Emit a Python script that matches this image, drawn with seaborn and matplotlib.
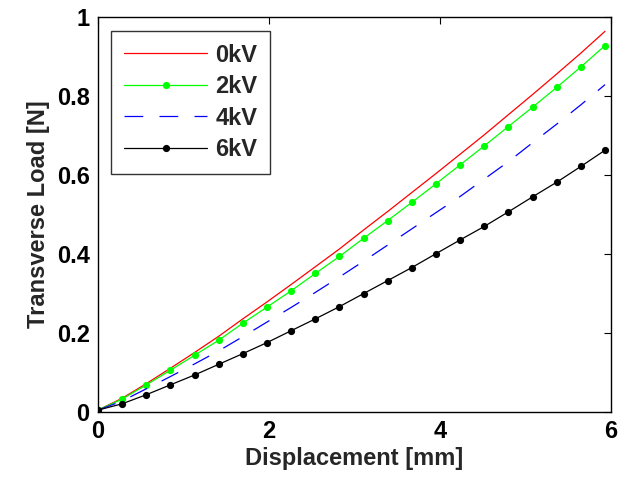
import matplotlib
matplotlib.use("Agg")
import matplotlib.pyplot as plt
import seaborn as sns
import numpy as np
import pandas as pd

displacement = [0.000, 0.282, 0.565, 0.847, 1.130, 1.412, 1.694, 1.977, 2.259, 2.542, 2.824,
                3.106, 3.389, 3.671, 3.953, 4.236, 4.518, 4.800, 5.083, 5.365, 5.648, 5.930]
load_0kV = [0.004, 0.034, 0.071, 0.110, 0.150, 0.191, 0.235, 0.278, 0.322, 0.367, 0.412,
            0.460, 0.507, 0.555, 0.603, 0.652, 0.701, 0.752, 0.803, 0.855, 0.908, 0.963]
load_2kV = [0.004, 0.032, 0.068, 0.105, 0.143, 0.181, 0.224, 0.265, 0.306, 0.350, 0.393,
            0.439, 0.484, 0.530, 0.577, 0.625, 0.673, 0.722, 0.771, 0.821, 0.873, 0.927]
load_4kV = [0.004, 0.027, 0.058, 0.089, 0.121, 0.154, 0.190, 0.227, 0.264, 0.302, 0.341,
            0.381, 0.422, 0.463, 0.504, 0.545, 0.589, 0.633, 0.681, 0.728, 0.777, 0.828]
load_6kV = [0.004, 0.020, 0.043, 0.068, 0.093, 0.120, 0.147, 0.175, 0.205, 0.235, 0.266,
            0.299, 0.332, 0.365, 0.400, 0.435, 0.469, 0.506, 0.544, 0.581, 0.621, 0.662]
series_labels = ["0kV", "2kV", "4kV", "6kV"]
x_ticks = [0, 2, 4, 6]
x_tick_labels = ["0", "2", "4", "6"]
y_ticks = [0, 0.2, 0.4, 0.6, 0.8, 1.0]
y_tick_labels = ["0", "0.2", "0.4", "0.6", "0.8", "1"]

sns.set_theme(style="white")
plt.rcParams['font.family'] = ['Liberation Sans', 'DejaVu Sans']
plt.rcParams['font.weight'] = 'bold'

FS = 17

fig = plt.figure(figsize=(6.18, 4.82), dpi=100)
ax = fig.add_axes([98/618, 1-411.7/482, (611-98)/618, (411.7-16.7)/482])

styles = {
    "0kV": dict(color=(1, 0, 0), marker=None, dashes=None),
    "2kV": dict(color=(0, 1, 0), marker="o", dashes=None),
    "4kV": dict(color=(0, 0, 1), marker=None, dashes=(15, 13)),
    "6kV": dict(color=(0, 0, 0), marker="o", dashes=None),
}
values = [load_0kV, load_2kV, load_4kV, load_6kV]
for lab, vals in zip(series_labels, values):
    df = pd.DataFrame({"x": displacement, "y": vals})
    st = styles[lab]
    kw = dict(data=df, x="x", y="y", ax=ax, color=st["color"], linewidth=0.9, label=lab)
    if st["marker"]:
        kw.update(marker="o", markersize=5.2, markeredgewidth=0, markerfacecolor=st["color"])
    sns.lineplot(**kw)
    if st["dashes"]:
        ax.get_lines()[-1].set_dashes(st["dashes"])

ax.set_xlim(0, 6)
ax.set_ylim(0, 1)
ax.set_xticks(x_ticks)
ax.set_xticklabels(x_tick_labels)
ax.set_yticks(y_ticks)
ax.set_yticklabels(y_tick_labels)
ax.tick_params(direction="in", length=5, width=0.8, top=True, right=True,
               labelsize=FS, colors="black", pad=6)
for lbl in ax.get_xticklabels() + ax.get_yticklabels():
    lbl.set_fontweight("bold")
for sp in ax.spines.values():
    sp.set_color("black")
    sp.set_linewidth(1.0)
ax.set_xlabel("Displacement [mm]", fontsize=FS, fontweight="bold", labelpad=3)
ax.set_ylabel("Transverse Load [N]", fontsize=FS, fontweight="bold", labelpad=5)

leg = ax.legend(loc="upper left", bbox_to_anchor=(0.026, 0.965), frameon=True, fancybox=False,
                edgecolor="black", fontsize=FS, handlelength=3.5, handletextpad=0.35,
                labelspacing=0.36, borderpad=0.55, borderaxespad=0.0)
leg.get_frame().set_linewidth(1.0)
for t in leg.get_texts():
    t.set_fontweight("bold")

fig.savefig("out.png", dpi=100, facecolor="white")
